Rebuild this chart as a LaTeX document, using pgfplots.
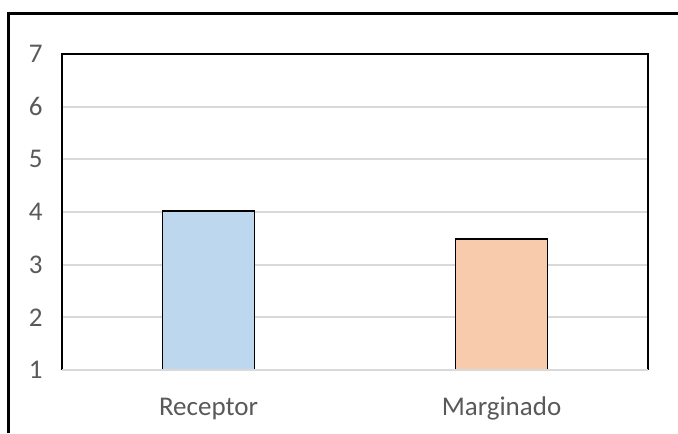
\documentclass[border=0pt]{standalone}
\usepackage{fontspec}
\setmainfont{Carlito}
\usepackage{pgfplots}
\pgfplotsset{compat=1.18}
\definecolor{barblue}{HTML}{BDD7EE}
\definecolor{barorange}{HTML}{F8CBAD}
\definecolor{gridc}{HTML}{D9D9D9}
\definecolor{txt}{HTML}{595959}
\begin{document}
\fontsize{13.5}{15}\selectfont
\begin{tikzpicture}
\useasboundingbox (0,0) rectangle (339pt,216.5pt);
\draw[line width=1.5pt] (4pt,0) -- (4pt,209.5pt) -- (339pt,209.5pt);
\begin{axis}[at={(31pt,31.5pt)}, anchor=south west,
  scale only axis, width=293pt, height=158pt,
  xmin=-0.5, xmax=1.5, ymin=1, ymax=7,
  ytick={1,2,3,4,5,6,7}, xtick={0,1}, xticklabels={Receptor,Marginado},
  ymajorgrids, grid style={gridc, line width=0.9pt},
  axis line style={draw=none},
  major tick length=0pt,
  tick label style={text=txt, font=\fontsize{13.5}{15}\selectfont},
  /pgf/number format/assume math mode=true,
  yticklabel style={anchor=east, inner sep=0pt, xshift=-9.5pt},
  xticklabel style={anchor=base, inner sep=0pt, yshift=-22.5pt},
  clip mode=individual,
]
\addplot[ybar, bar width=46pt, bar shift=0pt, fill=barblue, draw=black, line width=0.9pt] coordinates {(0,4.02)};
\addplot[ybar, bar width=46pt, bar shift=0pt, fill=barorange, draw=black, line width=0.9pt] coordinates {(1,3.49)};
\draw[black, line width=0.8pt] (rel axis cs:0,0) -- (rel axis cs:0,1) -- (rel axis cs:1,1) -- (rel axis cs:1,0);
\draw[gridc, line width=0.9pt] (rel axis cs:0,0) -- (rel axis cs:1,0);
\end{axis}
\end{tikzpicture}
\end{document}
